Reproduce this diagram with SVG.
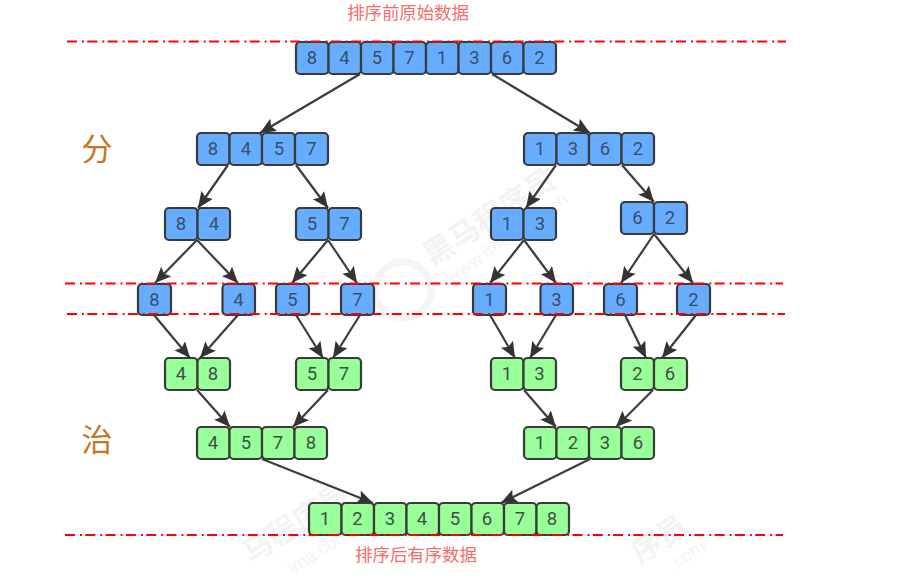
<svg xmlns="http://www.w3.org/2000/svg" width="917" height="578" viewBox="0 0 917 578">
<style>
text{font-family:Roboto,"Noto Sans CJK SC",sans-serif;text-anchor:middle}
.b rect{fill:#66adff;stroke:#3a3a3a;stroke-width:2.2}
.g rect{fill:#99ff99;stroke:#3a3a3a;stroke-width:2.2}
.n text{font-size:18.5px;fill:#3b4f68;dominant-baseline:central}
.g text{fill:#3f5045}
.c line{stroke:#3c3c3c;stroke-width:2.2;marker-end:url(#a)}
.r line{stroke:#ff0000;stroke-width:2;stroke-dasharray:10 5 2 3.300}
.l{font-family:"Noto Sans CJK SC",sans-serif;font-size:17.4px;fill:#f56c6c}
.h{font-family:"Noto Sans CJK SC",sans-serif;font-size:31px;fill:#c8761e}
.w{font-family:"Noto Sans CJK SC",sans-serif;fill:#f3f3f3;font-weight:700;font-size:30px}
.w2{fill:#f5f5f5;font-size:18px}
</style>
<defs>
<marker id="a" markerUnits="userSpaceOnUse" markerWidth="18" markerHeight="16" refX="16" refY="7" orient="auto"><path d="M0 0L16 7L0 14L3 7Z" fill="#333"/></marker>
</defs>
<rect width="917" height="578" fill="#fff"/>
<g id="watermark">
<text class="w" transform="translate(495 226) rotate(-33)">黑马程序员</text>
<text class="w2" transform="translate(510 243) rotate(-35)">www.itheima.com</text>
<circle cx="403" cy="290" r="28" fill="none" stroke="#f5f5f5" stroke-width="7"/>
<text class="w" transform="translate(301 532) rotate(-33)">马程序员</text>
<text class="w2" font-size="16" transform="translate(322 556) rotate(-33)">ima.com</text>
<text class="w" transform="translate(665 548) rotate(-33)">序员</text>
<text class="w2" transform="translate(690 560) rotate(-33)">.com</text>
</g>
<g id="connectors" class="c">
<line x1="360" y1="74" x2="260" y2="133"/><line x1="492" y1="74" x2="590" y2="133"/>
<line x1="228" y1="165" x2="198" y2="208"/><line x1="296" y1="165" x2="328" y2="208"/>
<line x1="556" y1="165" x2="526" y2="208"/><line x1="622" y1="165" x2="654" y2="202"/>
<line x1="197" y1="240" x2="155" y2="283"/><line x1="197" y1="240" x2="238" y2="283"/>
<line x1="328" y1="240" x2="292" y2="283"/><line x1="328" y1="240" x2="357" y2="283"/>
<line x1="524" y1="240" x2="490" y2="283"/><line x1="524" y1="240" x2="556" y2="283"/>
<line x1="654" y1="234" x2="621" y2="283"/><line x1="654" y1="234" x2="693" y2="283"/>
<line x1="154" y1="315" x2="190" y2="358"/><line x1="238" y1="315" x2="200" y2="358"/>
<line x1="296" y1="315" x2="323" y2="358"/><line x1="360" y1="315" x2="333" y2="358"/>
<line x1="490" y1="315" x2="515" y2="358"/><line x1="556" y1="315" x2="530" y2="358"/>
<line x1="625" y1="315" x2="646" y2="358"/><line x1="696" y1="315" x2="662" y2="358"/>
<line x1="197" y1="390" x2="230" y2="427"/><line x1="328" y1="390" x2="293" y2="427"/>
<line x1="524" y1="390" x2="556" y2="427"/><line x1="653" y1="390" x2="616" y2="427"/>
<line x1="262" y1="459" x2="373" y2="503"/><line x1="590" y1="459" x2="501" y2="503"/>
</g>
<g id="n1" class="n b">
<rect x="296" y="42" width="32.5" height="32" rx="4"/><rect x="328.500" y="42" width="32.5" height="32" rx="4"/><rect x="361" y="42" width="32.5" height="32" rx="4"/><rect x="393.500" y="42" width="32.5" height="32" rx="4"/><rect x="426" y="42" width="32.5" height="32" rx="4"/><rect x="458.500" y="42" width="32.5" height="32" rx="4"/><rect x="491" y="42" width="32.5" height="32" rx="4"/><rect x="523.500" y="42" width="32.5" height="32" rx="4"/>
<text x="312" y="58">8</text><text x="344.500" y="58">4</text><text x="377" y="58">5</text><text x="409.500" y="58">7</text><text x="442" y="58">1</text><text x="474.500" y="58">3</text><text x="507" y="58">6</text><text x="539.500" y="58">2</text>
</g>
<g id="n2" class="n b">
<rect x="197" y="133" width="32.500" height="32" rx="4"/><rect x="229.500" y="133" width="32.500" height="32" rx="4"/><rect x="262" y="133" width="33" height="32" rx="4"/><rect x="295" y="133" width="33" height="32" rx="4"/>
<text x="213" y="149">8</text><text x="246" y="149">4</text><text x="279" y="149">5</text><text x="311.500" y="149">7</text>
</g>
<g id="n3" class="n b">
<rect x="524" y="133" width="32.500" height="32" rx="4"/><rect x="556.500" y="133" width="32.500" height="32" rx="4"/><rect x="589" y="133" width="32.500" height="32" rx="4"/><rect x="621.500" y="133" width="32.500" height="32" rx="4"/>
<text x="540" y="149">1</text><text x="573" y="149">3</text><text x="605" y="149">6</text><text x="638" y="149">2</text>
</g>
<g id="n4" class="n b"><rect x="165" y="208" width="32.500" height="32" rx="4"/><rect x="197.500" y="208" width="32.500" height="32" rx="4"/><text x="181" y="224">8</text><text x="214" y="224">4</text></g>
<g id="n5" class="n b"><rect x="296" y="208" width="32.500" height="32" rx="4"/><rect x="328.500" y="208" width="32.500" height="32" rx="4"/><text x="312" y="224">5</text><text x="344.500" y="224">7</text></g>
<g id="n6" class="n b"><rect x="491" y="208" width="32.500" height="32" rx="4"/><rect x="523.500" y="208" width="32.500" height="32" rx="4"/><text x="507" y="224">1</text><text x="540" y="224">3</text></g>
<g id="n7" class="n b"><rect x="621" y="202" width="33" height="32" rx="4"/><rect x="654" y="202" width="33" height="32" rx="4"/><text x="637.500" y="218">6</text><text x="670" y="218">2</text></g>
<g id="n8" class="n b"><rect x="138" y="284" width="33" height="31" rx="4"/><text x="154.500" y="299.500">8</text></g>
<g id="n9" class="n b"><rect x="222.500" y="284" width="32.500" height="31" rx="4"/><text x="238.500" y="299.500">4</text></g>
<g id="n10" class="n b"><rect x="276" y="284" width="33" height="31" rx="4"/><text x="292.500" y="299.500">5</text></g>
<g id="n11" class="n b"><rect x="341" y="284" width="33" height="31" rx="4"/><text x="357.500" y="299.500">7</text></g>
<g id="n12" class="n b"><rect x="473" y="284" width="33" height="31" rx="4"/><text x="489.500" y="299.500">1</text></g>
<g id="n13" class="n b"><rect x="540.500" y="284" width="32.500" height="31" rx="4"/><text x="556.500" y="299.500">3</text></g>
<g id="n14" class="n b"><rect x="604" y="284" width="33" height="31" rx="4"/><text x="620.500" y="299.500">6</text></g>
<g id="n15" class="n b"><rect x="677" y="284" width="33" height="31" rx="4"/><text x="693.500" y="299.500">2</text></g>
<g id="n16" class="n g"><rect x="165" y="358" width="32.500" height="32" rx="4"/><rect x="197.500" y="358" width="32.500" height="32" rx="4"/><text x="181" y="374">4</text><text x="213" y="374">8</text></g>
<g id="n17" class="n g"><rect x="296" y="358" width="32.500" height="32" rx="4"/><rect x="328.500" y="358" width="32.500" height="32" rx="4"/><text x="312" y="374">5</text><text x="344" y="374">7</text></g>
<g id="n18" class="n g"><rect x="491" y="358" width="32.500" height="32" rx="4"/><rect x="523.500" y="358" width="32.500" height="32" rx="4"/><text x="507" y="374">1</text><text x="539.500" y="374">3</text></g>
<g id="n19" class="n g"><rect x="621" y="358" width="33" height="32" rx="4"/><rect x="654" y="358" width="33" height="32" rx="4"/><text x="637.500" y="374">2</text><text x="670" y="374">6</text></g>
<g id="n20" class="n g">
<rect x="197" y="427" width="32.500" height="32" rx="4"/><rect x="229.500" y="427" width="32.500" height="32" rx="4"/><rect x="262" y="427" width="32.500" height="32" rx="4"/><rect x="294.500" y="427" width="32.500" height="32" rx="4"/>
<text x="213" y="443">4</text><text x="246" y="443">5</text><text x="278" y="443">7</text><text x="311" y="443">8</text>
</g>
<g id="n21" class="n g">
<rect x="524" y="427" width="32.500" height="32" rx="4"/><rect x="556.500" y="427" width="32.500" height="32" rx="4"/><rect x="589" y="427" width="32.500" height="32" rx="4"/><rect x="621.500" y="427" width="32.500" height="32" rx="4"/>
<text x="540" y="443">1</text><text x="573" y="443">2</text><text x="605" y="443">3</text><text x="638" y="443">6</text>
</g>
<g id="n22" class="n g">
<rect x="309" y="503" width="32.500" height="32" rx="4"/><rect x="341.500" y="503" width="32.500" height="32" rx="4"/><rect x="374" y="503" width="32.500" height="32" rx="4"/><rect x="406.500" y="503" width="32.500" height="32" rx="4"/><rect x="439" y="503" width="32.500" height="32" rx="4"/><rect x="471.500" y="503" width="32.500" height="32" rx="4"/><rect x="504" y="503" width="32.500" height="32" rx="4"/><rect x="536.500" y="503" width="32.500" height="32" rx="4"/>
<text x="325" y="519">1</text><text x="357.500" y="519">2</text><text x="390" y="519">3</text><text x="422" y="519">4</text><text x="455" y="519">5</text><text x="487" y="519">6</text><text x="520" y="519">7</text><text x="552" y="519">8</text>
</g>
<g id="redlines" class="r">
<line x1="67" y1="41.500" x2="786" y2="41.500"/>
<line x1="65" y1="283.500" x2="783" y2="283.500"/>
<line x1="67" y1="314" x2="785" y2="314"/>
<line x1="65" y1="535" x2="783" y2="535"/>
</g>
<text class="l" x="408" y="19">排序前原始数据</text>
<text class="l" x="416" y="561">排序后有序数据</text>
<text class="h" x="97" y="160">分</text>
<text class="h" x="97" y="451">治</text>
</svg>
